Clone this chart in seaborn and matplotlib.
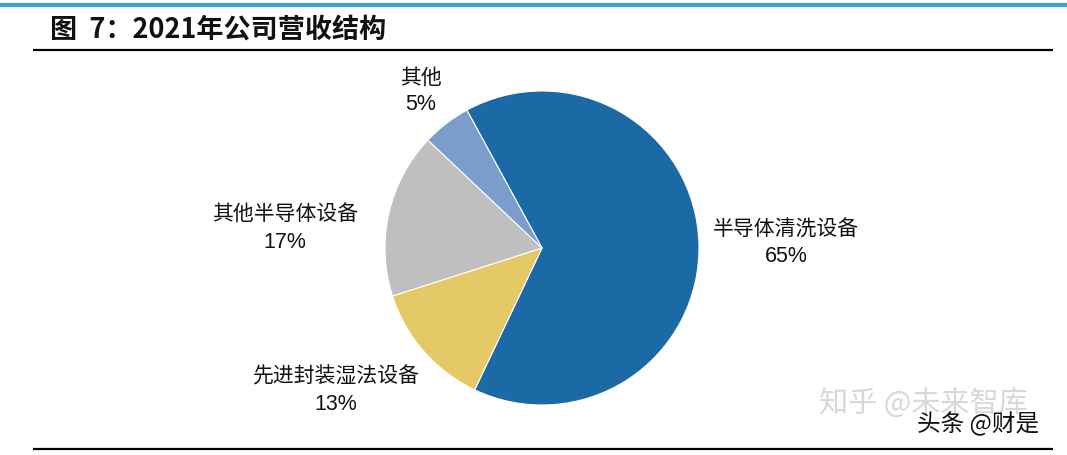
import matplotlib
matplotlib.use("Agg")
import matplotlib.pyplot as plt
import seaborn as sns

categories = ["半导体清洗设备", "先进封装湿法设备", "其他半导体设备", "其他"]
values = [65, 13, 17, 5]
pct_labels = ["65%", "13%", "17%", "5%"]
title = "图  7：2021年公司营收结构"

sns.set_theme(style="white")
plt.rcParams['font.family'] = ['Noto Sans CJK SC', 'DejaVu Sans']

colors = ["#1b6aa5", "#e5c966", "#bfbfbf", "#7a9dcc"]

W, H = 1067, 455
fig = plt.figure(figsize=(W / 100, H / 100), dpi=100)
ax = fig.add_axes([0, 0, 1, 1])

ax.pie(values, colors=colors, startangle=118.6, counterclock=False,
       center=(542, H - 248), radius=157,
       wedgeprops=dict(edgecolor="white", linewidth=0.8))
ax.set_xlim(0, W)
ax.set_ylim(0, H)
ax.set_aspect("auto")
ax.axis("off")

# label layout (pixel positions, top-left origin)
label_pos = [(786, 230), (336, 377), (285, 215), (421, 78)]
for cat, pct, (x, y) in zip(categories, pct_labels, label_pos):
    ax.text(x, H - y, cat, ha="center", va="center", fontsize=15,
            color="#111111", family=['Noto Sans CJK SC'], fontweight="light")
    ax.text(x, H - y - 27, pct, ha="center", va="center", fontsize=15.5,
            color="#111111", family=['Liberation Sans'])

# title and rules
ax.plot([0, W], [H - 5, H - 5], color="#3f9fd8", lw=3, solid_capstyle="butt")
ax.text(50, H - 30, title, ha="left", va="center", fontsize=19.5,
        fontweight="bold", color="#111111",
        family=['Noto Sans CJK SC', 'Liberation Sans'])
ax.plot([33, 1053], [H - 50, H - 50], color="black", lw=1.6, solid_capstyle="butt")
ax.plot([33, 1053], [H - 449, H - 449], color="black", lw=1.6, solid_capstyle="butt")

# watermarks
ax.text(923, H - 405, "知乎 @未来智库", ha="center", va="center", fontsize=21,
        color="#cfcfcf", alpha=0.8)
ax.text(978, H - 424, "头条 @财是", ha="center", va="center", fontsize=17,
        color="#111111")

fig.savefig("out.png", dpi=100)
